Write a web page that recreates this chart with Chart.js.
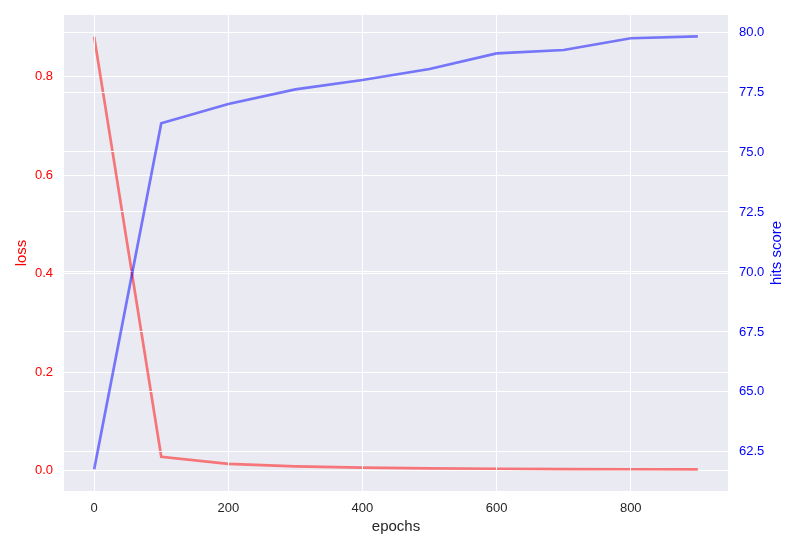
<!DOCTYPE html>
<html>
<head>
<meta charset="utf-8">
<script src="https://cdn.jsdelivr.net/npm/chart.js@4"></script>
<style>
  html, body { margin: 0; padding: 0; background: #ffffff; }
  #wrap { width: 800px; height: 550px; }
</style>
</head>
<body>
<div id="wrap"><canvas id="c" width="800" height="550"></canvas></div>
<script>
const epochs = [0, 100, 200, 300, 400, 500, 600, 700, 800, 900];
const loss = [0.881, 0.028, 0.0136, 0.0085, 0.0058, 0.0046, 0.0037, 0.0031, 0.0027, 0.0025];
const hits = [61.78, 76.2, 77.0, 77.61, 78.0, 78.46, 79.11, 79.25, 79.74, 79.82];
const xTicks = [0, 200, 400, 600, 800];
const lossTicks = [0.0, 0.2, 0.4, 0.6, 0.8];
const hitsTicks = [62.5, 65.0, 67.5, 70.0, 72.5, 75.0, 77.5, 80.0];

const FONT = "'Liberation Sans', Arial, sans-serif";

const bgPlugin = {
  id: 'bg',
  beforeDraw(chart) {
    const {ctx, chartArea: a} = chart;
    ctx.save();
    ctx.fillStyle = '#EAEAF2';
    ctx.fillRect(a.left, a.top, a.right - a.left, a.bottom - a.top);
    ctx.restore();
  }
};

function align(p) { return Math.round(p - 0.5) + 0.5; }

// twin-axis grid drawn above the first (loss) line, like matplotlib's twinx
const overGrid = {
  id: 'overGrid',
  afterDatasetDraw(chart, args) {
    if (args.index !== 0) return;
    const {ctx, chartArea: a, scales} = chart;
    ctx.save();
    ctx.strokeStyle = '#ffffff';
    ctx.lineWidth = 1;
    ctx.beginPath();
    hitsTicks.forEach(v => {
      const y = align(scales.y1.getPixelForValue(v));
      ctx.moveTo(a.left, y); ctx.lineTo(a.right, y);
    });
    xTicks.forEach(v => {
      const x = align(scales.x.getPixelForValue(v));
      ctx.moveTo(x, a.top); ctx.lineTo(x, a.bottom);
    });
    ctx.stroke();
    ctx.restore();
  }
};

const rightTitle = {
  id: 'rightTitle',
  afterDraw(chart) {
    const {ctx, chartArea: a} = chart;
    ctx.save();
    ctx.translate(777, (a.top + a.bottom) / 2);
    ctx.rotate(-Math.PI / 2);
    ctx.fillStyle = '#0000ff';
    ctx.font = '15px ' + FONT;
    ctx.textAlign = 'center';
    ctx.textBaseline = 'middle';
    ctx.fillText('hits score', 0, 0);
    ctx.restore();
  }
};

function zeroPad(s) { s.paddingTop = 0; s.paddingBottom = 0; s.paddingLeft = 0; s.paddingRight = 0; }

new Chart(document.getElementById('c'), {
  type: 'line',
  data: {
    datasets: [
      {
        label: 'loss',
        data: epochs.map((e, i) => ({x: e, y: loss[i]})),
        yAxisID: 'y',
        borderColor: 'rgba(255,0,0,0.5)',
        borderWidth: 2.7,
        pointRadius: 0,
        tension: 0,
        fill: false,
        order: 2
      },
      {
        label: 'hits score',
        data: epochs.map((e, i) => ({x: e, y: hits[i]})),
        yAxisID: 'y1',
        borderColor: 'rgba(0,0,255,0.5)',
        borderWidth: 2.7,
        pointRadius: 0,
        tension: 0,
        fill: false,
        order: 1
      }
    ]
  },
  options: {
    responsive: false,
    animation: false,
    events: [],
    layout: { padding: { top: 15, left: 0, right: 0, bottom: 0 } },
    plugins: { legend: { display: false }, tooltip: { enabled: false } },
    scales: {
      x: {
        type: 'linear',
        min: -45, max: 945,
        afterBuildTicks(s) { s.ticks = xTicks.map(v => ({value: v})); },
        afterFit(s) { s.height = 59; zeroPad(s); },
        grid: { color: '#ffffff', lineWidth: 1, drawTicks: false },
        border: { display: false },
        ticks: { color: '#262626', font: { family: FONT, size: 13 }, padding: 10, maxRotation: 0 },
        title: { display: true, text: 'epochs', color: '#262626', font: { family: FONT, size: 15 }, padding: { top: 0, bottom: 14 } }
      },
      y: {
        type: 'linear',
        position: 'left',
        min: -0.0415, max: 0.9255,
        afterBuildTicks(s) { s.ticks = lossTicks.map(v => ({value: v})); },
        afterFit(s) { s.width = 64; zeroPad(s); },
        grid: { color: '#ffffff', lineWidth: 1, drawTicks: false },
        border: { display: false },
        ticks: { color: '#ff0000', font: { family: FONT, size: 13 }, padding: 11, callback: v => Number(v).toFixed(1) },
        title: { display: true, text: 'loss', color: '#ff0000', font: { family: FONT, size: 15 }, padding: { top: 13, bottom: 0 } }
      },
      y1: {
        type: 'linear',
        position: 'right',
        min: 60.87, max: 80.71,
        afterBuildTicks(s) { s.ticks = hitsTicks.map(v => ({value: v})); },
        afterFit(s) { s.width = 72; zeroPad(s); },
        grid: { color: '#ffffff', lineWidth: 1, drawTicks: false, drawOnChartArea: true },
        border: { display: false },
        ticks: { color: '#0000ff', font: { family: FONT, size: 13 }, padding: 11, callback: v => Number(v).toFixed(1) },
        title: { display: false }
      }
    }
  },
  plugins: [bgPlugin, overGrid, rightTitle]
});
</script>
</body>
</html>
